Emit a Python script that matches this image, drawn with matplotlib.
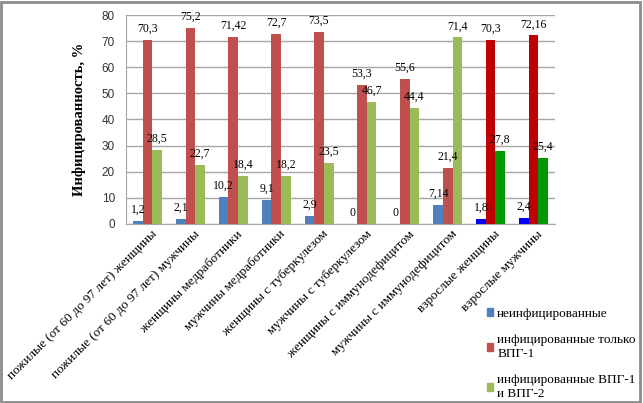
import matplotlib.pyplot as plt
import numpy as np
from matplotlib.patches import Patch, Rectangle

categories = [
    "пожилые (от 60 до 97 лет) женщины",
    "пожилые (от 60 до 97 лет) мужчины",
    "женщины медработники",
    "мужчины медработники",
    "женщины с туберкулезом",
    "мужчины с туберкулезом",
    "женщины с иммунодефицитом",
    "мужчины с иммунодефицитом",
    "взрослые женщины",
    "взрослые мужчины",
]
uninfected = [1.2, 2.1, 10.2, 9.1, 2.9, 0, 0, 7.14, 1.8, 2.4]
hsv1_only = [70.3, 75.2, 71.42, 72.7, 73.5, 53.3, 55.6, 21.4, 70.3, 72.16]
hsv1_hsv2 = [28.5, 22.7, 18.4, 18.2, 23.5, 46.7, 44.4, 71.4, 27.8, 25.4]
series_names = [
    "неинфицированные",
    "инфицированные только\nВПГ-1",
    "инфицированные ВПГ-1\nи ВПГ-2",
]

base_colors = ["#4F81BD", "#C0504D", "#9BBB59"]
adult_colors = ["#0000FF", "#C00000", "#009900"]

serif = "Liberation Serif"
sans = "Liberation Sans"

fig = plt.figure(figsize=(6.43, 4.03), dpi=100)
ax = fig.add_axes([126 / 643, 1 - 224 / 403, 429 / 643, 209 / 403])

x = np.arange(len(categories))
w = 0.225
series = [uninfected, hsv1_only, hsv1_hsv2]
for i, vals in enumerate(series):
    cols = [adult_colors[i] if c.startswith("взрослые") else base_colors[i] for c in categories]
    pos = x + (i - 1) * w
    ax.bar(pos, vals, width=w, color=cols, zorder=3)
    for p, v in zip(pos, vals):
        lab = ("%g" % v).replace(".", ",")
        ax.text(p, v + 2, lab, ha="center", va="bottom", fontsize=8.5,
                family=serif, zorder=4)

ax.set_xlim(-0.5, len(categories) - 0.5)
ax.set_ylim(0, 80)
ax.set_yticks(range(0, 81, 10))
ax.yaxis.grid(True, color="#A6A6A6", linewidth=1, zorder=0)
for s in ["top", "right"]:
    ax.spines[s].set_visible(False)
for s in ["left", "bottom"]:
    ax.spines[s].set_color("#A6A6A6")
ax.tick_params(axis="y", length=0, labelsize=8.5, pad=8, labelcolor="#333333")
ax.tick_params(axis="x", length=0, pad=3)
for t in ax.get_yticklabels():
    t.set_family(sans)

ax.set_xticks(x + 0.08)
ax.set_xticklabels(categories, rotation=45, ha="right", va="top",
                   rotation_mode="anchor", family=serif, fontsize=9.5)

ax.set_ylabel("Инфицированность, %", family=serif, fontweight="bold",
              fontsize=10.5, labelpad=11)

handles = [Patch(color=c) for c in base_colors]
fig.legend(handles, series_names, loc="upper left",
           bbox_to_anchor=(484 / 643, 1 - 305 / 403), frameon=False,
           prop={"family": serif, "size": 9.5}, handlelength=0.5,
           handleheight=0.5, handletextpad=0.3, labelspacing=1.1,
           borderaxespad=0, borderpad=0.2)

fig.patches.append(Rectangle((0.002, 0.002), 0.994, 0.994, transform=fig.transFigure,
                             fill=False, edgecolor="#8C8C8C", linewidth=2))

fig.savefig("out.png", dpi=100)
